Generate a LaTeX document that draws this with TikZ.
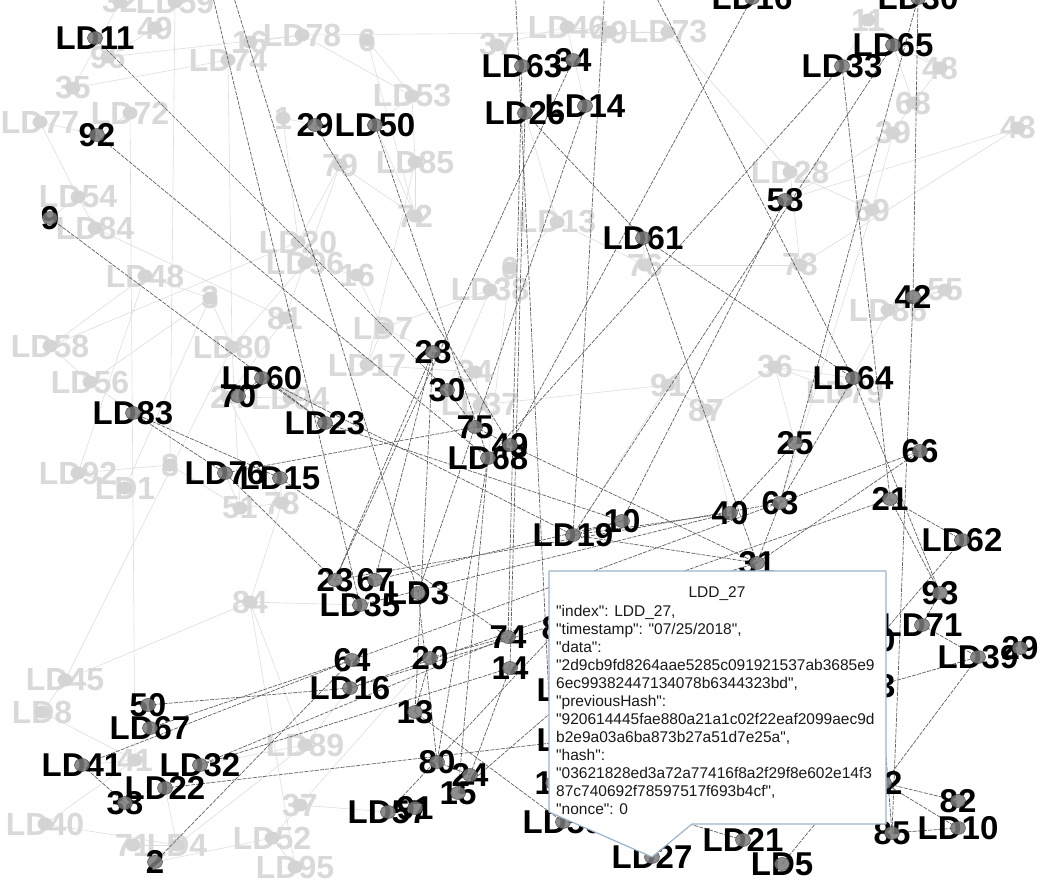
\documentclass[tikz,border=0pt]{standalone}
\usepackage{fontspec}
\setmainfont{Liberation Sans}
\newfontfamily\tipfont{Liberation Sans}
\definecolor{tipblue}{HTML}{9DB5CC}
\begin{document}
\begin{tikzpicture}[x=1pt,y=-1pt,
  dk/.style={draw=black!62,line width=0.7pt,dash pattern=on 4pt off 1.2pt},
  lt/.style={draw=black!13,line width=0.6pt},
  hl/.style={font=\fontsize{33}{33}\selectfont\bfseries,text=black,inner sep=0pt},
  fd/.style={font=\fontsize{32}{32}\selectfont\bfseries,text=black!15,inner sep=0pt},
  hdot/.style={fill=black!52,fill opacity=0.85,draw=black!75,line width=0.4pt},
  fdot/.style={fill=black!17,draw=none},
  tipbox/.style={draw=tipblue,fill=white,line width=1.2pt,line join=round},
  tiptxt/.style={font=\tipfont\fontsize{15.5}{18}\selectfont,text=black!90,inner sep=0pt,anchor=base west}]
\useasboundingbox (0,0) rectangle (1040,880);
\clip (0,0) rectangle (1040,880);
\fill[white] (0,0) rectangle (1040,880);

% ---------- coordinates ----------
\foreach \n/\x/\y in {
 a11/95/38, a92/97/135, a9/50/218, a29/315/125, a50/375/125, a63/522/66, a34/573/60,
 a26/525/113, a14/585/106, a61/643/238, a65/893/45, a33/842/66, aT1/752/-2, aT2/918/-2,
 a58/785/200, a42/913/297, a64/853/378, a25/795/443, a66/920/451, a21/890/499,
 a63b/780/503, a40/730/513, a31/757/563, a62/962/540, a93/940/593, a71/922/625,
 a39/978/657, a29b/1020/648, a82/958/801, a10/958/828, a85/892/833, a5/782/864,
 a21b/743/840, a27/652/857, a19/573/535, a10b/622/521, a68/488/458, a49/510/445,
 a75/475/427, a30/447/390, a28/433/352, a60/262/378, a70/238/396, a83/133/413,
 a23/325/423, a76/225/473, a15/280/478, a23b/335/580, a67/375/580, a35/360/605,
 a3/418/593, a64b/352/660, a20/430/658, a16/350/688, a13/415/712, a74/508/637,
 a14b/510/668, a80/437/762, a24/470/775, a15b/458/793, a57/388/812, a91/415/808,
 a50b/148/705, a67b/150/728, a41/82/765, a32/200/765, a22/165/788, a38/125/803,
 a2/155/862, a8/560/628, aL1/577/690, aL2/577/740, a18/553/783, a59/563/822,
 a0/877/640, a3b/877/686, a2b/884/783, a88/825/812,
 o1/210/-15, o2/230/-15, o3/605/-15, o4/650/-15, o5/515/-15,
 f1/120/2, f2/175/2, f3/155/28, f4/108/57, f5/73/88, f6/40/122, f7/130/113, f8/78/197,
 f9/95/228, f10/145/276, f11/250/42, f12/302/35, f13/228/60, f14/367/40, f15/497/45,
 f16/567/27, f17/610/32, f18/668/32, f19/283/118, f20/412/96, f21/340/165, f22/415/162,
 f23/415/216, f24/557/222, f25/510/268, f26/490/290, f27/645/265, f28/298/242,
 f29/305/263, f30/357/275, f31/210/298, f32/285/318, f33/383/328, f34/367/365,
 f35/232/347, f36/50/346, f37/90/382, f38/228/397, f39/290/398, f40/475/372,
 f41/480/405, f42/668/385, f43/706/410, f44/775/367, f46/845/392, f47/888/310,
 f48/945/290, f49/800/265, f50/872/210, f51/893/133, f52/913/103, f53/940/68,
 f54/1018/128, f55/790/172, f56/868/20, f57/78/473, f58/125/488, f59/170/465,
 f60/240/508, f61/282/503, f62/250/602, f63/65/680, f64/42/712, f65/305/745,
 f66/135/760, f67/45/824, f68/133/845, f69/177/845, f70/300/805, f71/272/838,
 f72/295/867}
 \coordinate (\n) at (\x,\y);

% ---------- faint edges ----------
\foreach \a/\b in {
 f6/f8, f5/f13, f4/f12, f7/f66, f2/f59, f10/f31, f10/f36, f36/f28, f37/f31, f28/f21,
 f28/f19, f29/f30, f30/f33, f33/f34, f34/f40, f35/f31, f32/f38, f57/f59, f59/f60,
 f60/f61, f61/f62, f63/f35, f63/f62, f67/f66, f68/f69, f69/f65, f70/f71, f71/f72,
 f65/f62, f14/f20, f11/f12, f12/f18, f15/f16, f16/f17, f17/f18, f18/f55, f55/f49,
 f55/f50, f50/f51, f51/f52, f52/f53, f53/f56, f54/f49, f49/f27, f27/f24, f24/f25,
 f25/f26, f26/f33, f23/f22, f22/f20, f21/f23, f42/f43, f43/f44, f44/f46, f46/f47,
 f47/f48, f41/f40, f41/f42, f39/f38, f58/f57, f3/f4, f1/f5, f20/a50, f19/a29,
 f40/a28, f41/a75, f47/a42, f48/a42, f44/a64, f61/a15, f60/a76, f62/a35, f65/a16,
 f66/a41, f69/a22, f70/a57, f52/a65, f53/a65, f56/a33, f51/a58, f27/a61, f24/a26,
 f23/a50, f8/a9, f7/a92, f4/a11, f6/a92, f37/a83, f9/f32, f13/f35, f14/f23,
 f31/f58, f35/f60, f62/f72, f64/f63, f57/f10, f38/f61, f42/a19, f43/a40,
 f54/a58, f50/a63b, f44/a25, f26/a30, f25/a68, f33/a28, f39/a23, f71/a2, f70/a20,
 f65/a32, f64/f66, f67/f69, f21/f32, f22/f34, f29/f35, f16/a14, f15/a63, f12/f20,
 f9/f8, f36/f37}
 \draw[lt] (\a) -- (\b);

% ---------- faint labels ----------
\foreach \n/\t in {
 f1/32, f2/LD59, f3/49, f4/96, f5/35, f6/LD77, f7/LD72, f8/LD54, f9/LD84, f10/LD48,
 f11/16, f12/LD78, f13/LD74, f14/6, f15/37, f16/LD46, f17/49, f18/LD73, f19/1,
 f20/LD53, f21/79, f22/LD85, f23/72, f24/LD13, f25/0, f26/LD38, f27/76, f28/LD20,
 f29/LD96, f30/16, f31/3, f32/81, f33/LD7, f34/LD17, f35/LD80, f36/LD58, f37/LD56,
 f38/24, f39/LD94, f40/34, f41/LD37, f42/91, f43/87, f44/36, f46/LD79, f47/LD86,
 f48/55, f49/73, f50/69, f51/39, f52/68, f53/48, f54/43, f55/LD28, f56/11, f57/LD92,
 f58/LD1, f59/8, f60/51, f61/78, f62/84, f63/LD45, f64/LD8, f65/LD89, f66/41,
 f67/LD40, f68/71, f69/LD4, f70/37, f71/LD52, f72/LD95}
 {\node[fd] (t\n) at (\n) {\t}; \path[fdot] (\n) circle[x radius=7.5,y radius=6.5];}

% ---------- dark edges ----------
\foreach \a/\b in {
 a11/a30, a92/a68, a9/a23, o1/a35, o2/a3, a29/a49, a50/a68, a60/a19, a83/a15,
 a15/a74, a75/a76, a28/a23b, a28/a67, a68/a80, a68/a15b, a19/a31, a19/a40, a19/a10b,
 a66/a64b, a21/a16, a42/a85, a64/a63b, a64/a93, a93/a71, a71/a39, a39/a2b, a82/a2b,
 a10/a2b, a5/a88, a50b/a16, a67b/a64b, a41/a64b, a32/a74, a32/a14b, a22/aL2, a2/a64b,
 a3/a80, a24/a14b, a35/a40, a16/a31, a63/a74, a26/a14b, a34/a23b, a14/a3, a26/a61,
 a61/a64, a61/a31, a33/a68, a65/a19, a33/a21, aT2/a63b, aT2/a42, a58/a10b, aT1/a49,
 o4/a64, o3/a19, a25/a40, a63b/a31, a62/a0, a21/a93, a60/a23, a70/a60, a76/a35,
 a67/a10b, a23b/a63b, a20/a74, a57/a8, a15b/aL1, a27/aL2, a21b/a18, a85/a0,
 a83/a76, a13/a20, a80/a24, a15b/a24, a57/a91, a30/a75, a75/a49, a13/a59,
 a49/a31, a28/a13, o5/a18, a23/a10b, a38/a41, a62/a21, a66/a31, a3b/a39, a10/a85}
 \draw[dk] (\a) -- (\b);

% ---------- dark labels ----------
\foreach \n/\t in {
 a11/LD11, a92/92, a9/9, a29/29, a50/LD50, a63/LD63, a34/34, a26/LD26, a14/LD14,
 a61/LD61, a65/LD65, a33/LD33, aT1/LD16, aT2/LD30, a58/58, a42/42, a64/LD64, a25/25,
 a66/66, a21/21, a63b/63, a40/40, a31/31, a62/LD62, a93/93, a71/LD71, a29b/29,
 a39/LD39, a82/82, a10/LD10, a85/85, a5/LD5, a21b/LD21, a27/LD27, a19/LD19, a10b/10,
 a68/LD68, a49/49, a75/75, a30/30, a28/28, a60/LD60, a70/70, a83/LD83, a23/LD23,
 a76/LD76, a15/LD15, a23b/23, a67/67, a35/LD35, a3/LD3, a64b/64, a20/20, a16/LD16,
 a13/13, a74/74, a14b/14, a80/80, a24/24, a15b/15, a57/LD57, a91/91, a50b/50,
 a67b/LD67, a41/LD41, a32/LD32, a22/LD22, a38/38, a2/2, a8/81, aL1/LD18, aL2/LD86,
 a18/18, a59/LD59, a0/90, a3b/43, a2b/12, a88/88}
 {\node[hl] (t\n) at (\n) {\t};}
\foreach \n in {
 a11, a92, a9, a29, a50, a63, a34, a26, a14, a61, a65, a33, aT1, aT2, a58, a42, a64,
 a25, a66, a21, a63b, a40, a31, a62, a93, a71, a29b, a39, a82, a10, a85, a5, a21b,
 a27, a19, a10b, a68, a49, a75, a30, a28, a60, a70, a83, a23, a76, a15, a23b, a67,
 a35, a3, a64b, a20, a16, a13, a74, a14b, a80, a24, a15b, a57, a91, a50b, a67b,
 a41, a32, a22, a38, a2, a8, aL1, aL2, a18, a59, a0, a3b, a2b, a88}
 \path[hdot] (\n) circle[x radius=7.5,y radius=6.5];

% ---------- tooltip ----------
\path[tipbox] (549,571) -- (886,571) -- (886,824) -- (692,824) -- (a27) -- (549,812) -- cycle;
\node[font=\tipfont\fontsize{15.5}{18}\selectfont,text=black!90,inner sep=0pt,anchor=base] (ttitle) at (717,597.5) {LDD\_27};
\node[tiptxt] (tl1) at (556,616.5) {"index": LDD\_27,};
\node[tiptxt] (tl2) at (556,634.5) {"timestamp": "07/25/2018",};
\node[tiptxt] (tl3) at (556,652.5) {"data":};
\node[tiptxt] (tl4) at (556,670.5) {"2d9cb9fd8264aae5285c091921537ab3685e9};
\node[tiptxt] (tl5) at (556,688.5) {6ec99382447134078b6344323bd",};
\node[tiptxt] (tl6) at (556,706.5) {"previousHash":};
\node[tiptxt] (tl7) at (556,724.5) {"920614445fae880a21a1c02f22eaf2099aec9d};
\node[tiptxt] (tl8) at (556,742.5) {b2e9a03a6ba873b27a51d7e25a",};
\node[tiptxt] (tl9) at (556,760.5) {"hash":};
\node[tiptxt] (tl10) at (556,778.5) {"03621828ed3a72a77416f8a2f29f8e602e14f3};
\node[tiptxt] (tl11) at (556,796.5) {87c740692f78597517f693b4cf",};
\node[tiptxt] (tl12) at (556,814.5) {"nonce": 0};
\end{tikzpicture}
\end{document}
